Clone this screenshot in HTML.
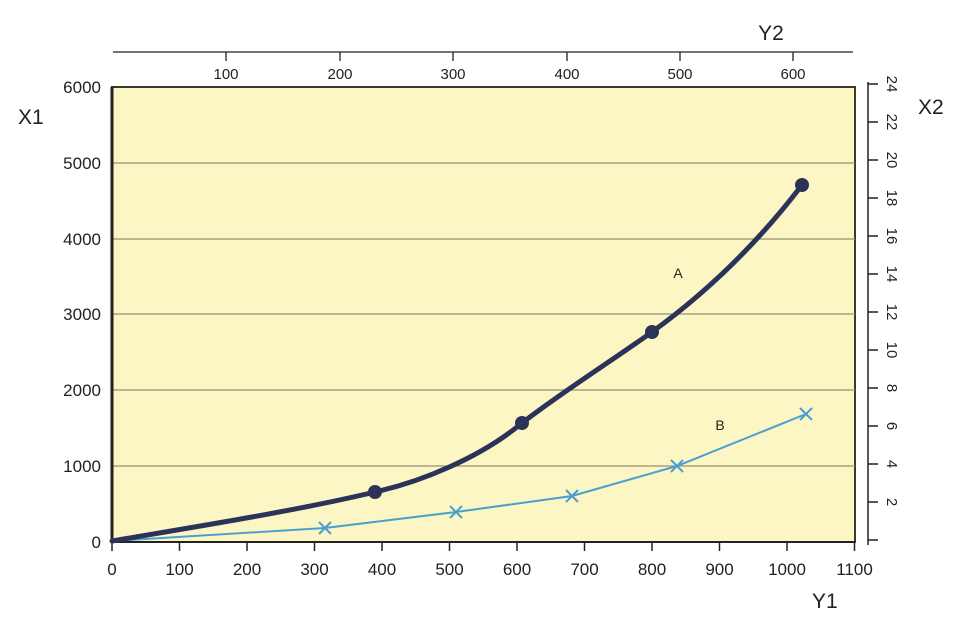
<!DOCTYPE html>
<html><head><meta charset="utf-8"><style>
html,body{margin:0;padding:0;background:#fff;}
svg{display:block;font-family:"Liberation Sans",sans-serif;}
</style></head><body>
<svg width="960" height="633" viewBox="0 0 960 633">
<rect x="112" y="87" width="743" height="455" fill="#fbf6c4" stroke="#3a3a2a" stroke-width="2"/>
<g stroke="#9a9170" stroke-width="1.2">
<line x1="112" y1="466" x2="855" y2="466"/>
<line x1="112" y1="390" x2="855" y2="390"/>
<line x1="112" y1="314" x2="855" y2="314"/>
<line x1="112" y1="239" x2="855" y2="239"/>
<line x1="112" y1="163" x2="855" y2="163"/>
</g>
<line x1="112" y1="87" x2="112" y2="542" stroke="#222" stroke-width="3"/>
<line x1="112" y1="542" x2="855" y2="542" stroke="#222" stroke-width="2"/>
<g stroke="#222" stroke-width="1.5">
<line x1="112" y1="542" x2="112" y2="551"/><line x1="179.5" y1="542" x2="179.5" y2="551"/><line x1="247" y1="542" x2="247" y2="551"/><line x1="314.5" y1="542" x2="314.5" y2="551"/><line x1="382" y1="542" x2="382" y2="551"/><line x1="449.5" y1="542" x2="449.5" y2="551"/><line x1="517" y1="542" x2="517" y2="551"/><line x1="584.5" y1="542" x2="584.5" y2="551"/><line x1="652" y1="542" x2="652" y2="551"/><line x1="719.5" y1="542" x2="719.5" y2="551"/><line x1="787" y1="542" x2="787" y2="551"/><line x1="854.5" y1="542" x2="854.5" y2="551"/>
</g>
<g font-size="17" fill="#222" text-anchor="middle">
<text x="112" y="575">0</text><text x="179.5" y="575">100</text><text x="247" y="575">200</text><text x="314.5" y="575">300</text><text x="382" y="575">400</text><text x="449.5" y="575">500</text><text x="517" y="575">600</text><text x="584.5" y="575">700</text><text x="652" y="575">800</text><text x="719.5" y="575">900</text><text x="787" y="575">1000</text><text x="854.5" y="575">1100</text>
</g>
<g font-size="17" fill="#222" text-anchor="end">
<text x="101" y="548">0</text><text x="101" y="472">1000</text><text x="101" y="396">2000</text><text x="101" y="320">3000</text><text x="101" y="245">4000</text><text x="101" y="169">5000</text><text x="101" y="93">6000</text>
</g>
<text x="18" y="124" font-size="21" fill="#222">X1</text>
<text x="812" y="608" font-size="21" fill="#222">Y1</text>
<line x1="113" y1="52" x2="853" y2="52" stroke="#222" stroke-width="1.3"/>
<g stroke="#222" stroke-width="1.3">
<line x1="226" y1="52" x2="226" y2="61"/><line x1="340" y1="52" x2="340" y2="61"/><line x1="453" y1="52" x2="453" y2="61"/><line x1="567" y1="52" x2="567" y2="61"/><line x1="680" y1="52" x2="680" y2="61"/><line x1="793" y1="52" x2="793" y2="61"/>
</g>
<g font-size="15" fill="#222" text-anchor="middle">
<text x="226" y="79">100</text><text x="340" y="79">200</text><text x="453" y="79">300</text><text x="567" y="79">400</text><text x="680" y="79">500</text><text x="793" y="79">600</text>
</g>
<text x="771" y="40" font-size="21" fill="#222" text-anchor="middle">Y2</text>
<line x1="868" y1="82" x2="868" y2="545" stroke="#222" stroke-width="1.5"/>
<g stroke="#222" stroke-width="1.5">
<line x1="868" y1="84" x2="878" y2="84"/><line x1="868" y1="122" x2="878" y2="122"/><line x1="868" y1="160" x2="878" y2="160"/><line x1="868" y1="198" x2="878" y2="198"/><line x1="868" y1="236" x2="878" y2="236"/><line x1="868" y1="274" x2="878" y2="274"/><line x1="868" y1="312" x2="878" y2="312"/><line x1="868" y1="350" x2="878" y2="350"/><line x1="868" y1="388" x2="878" y2="388"/><line x1="868" y1="426" x2="878" y2="426"/><line x1="868" y1="464" x2="878" y2="464"/><line x1="868" y1="502" x2="878" y2="502"/><line x1="868" y1="540" x2="878" y2="540"/>
</g>
<g font-size="15" fill="#222" text-anchor="middle">
<text transform="translate(887,84) rotate(90)">24</text><text transform="translate(887,122) rotate(90)">22</text><text transform="translate(887,160) rotate(90)">20</text><text transform="translate(887,198) rotate(90)">18</text><text transform="translate(887,236) rotate(90)">16</text><text transform="translate(887,274) rotate(90)">14</text><text transform="translate(887,312) rotate(90)">12</text><text transform="translate(887,350) rotate(90)">10</text><text transform="translate(887,388) rotate(90)">8</text><text transform="translate(887,426) rotate(90)">6</text><text transform="translate(887,464) rotate(90)">4</text><text transform="translate(887,502) rotate(90)">2</text>
</g>
<text x="918" y="114" font-size="21" fill="#222">X2</text>
<polyline points="112,541 325,528 456,512 572,496 677,466 806,414" fill="none" stroke="#4b9fd0" stroke-width="2"/>
<g stroke="#4b9fd0" stroke-width="2">
<path d="M319,522l12,12M331,522l-12,12"/><path d="M450,506l12,12M462,506l-12,12"/><path d="M566,490l12,12M578,490l-12,12"/><path d="M671,460l12,12M683,460l-12,12"/><path d="M800,408l12,12M812,408l-12,12"/>
</g>
<path d="M112,541 C200,526 300,510 375,492 C420,482 480,458 522,423 C565,390 610,362 652,332 C710,290 760,240 802,185" fill="none" stroke="#2b3358" stroke-width="5" stroke-linecap="round"/>
<g fill="#2b3358">
<circle cx="375" cy="492" r="7"/><circle cx="522" cy="423" r="7"/><circle cx="652" cy="332" r="7"/><circle cx="802" cy="185" r="7"/>
</g>
<text x="678" y="278" font-size="14" fill="#222" text-anchor="middle">A</text>
<text x="720" y="430" font-size="14" fill="#222" text-anchor="middle">B</text>
</svg>
</body></html>
